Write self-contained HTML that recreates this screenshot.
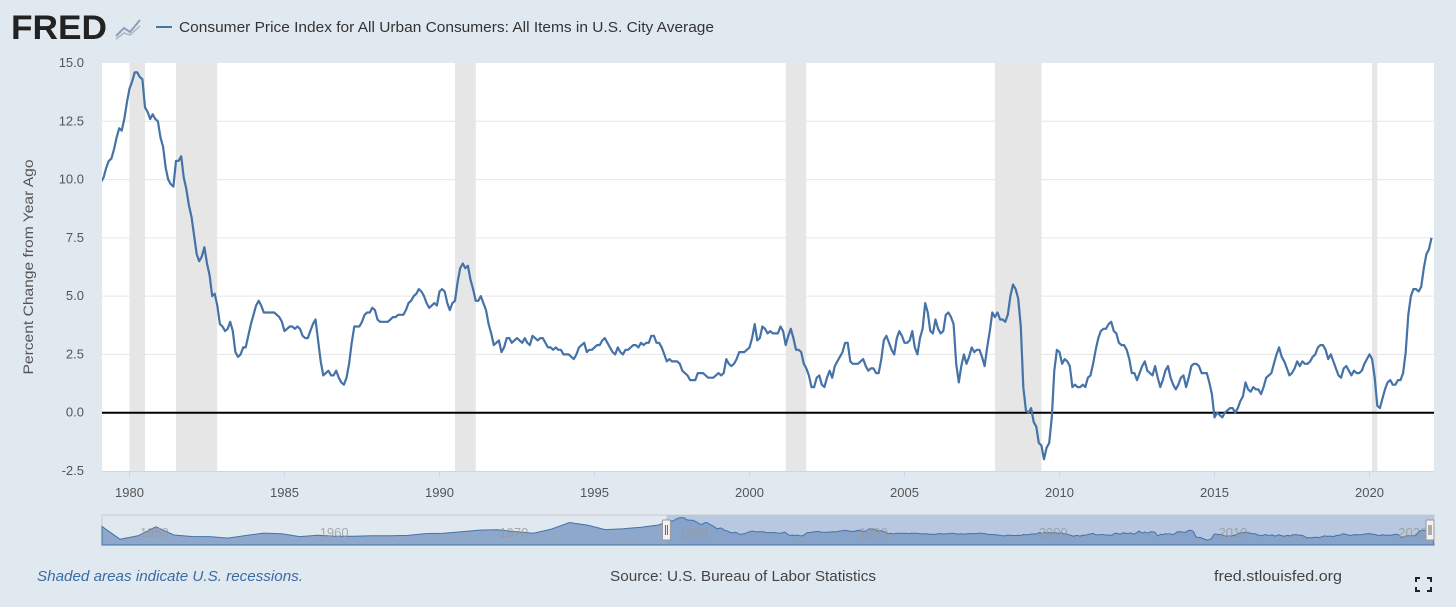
<!DOCTYPE html>
<html><head><meta charset="utf-8"><style>
body{margin:0;background:#e1e9f0;font-family:"Liberation Sans",sans-serif;}
#wrap{position:relative;width:1456px;height:607px;overflow:hidden;background:#e1e9f0;}
</style></head><body>
<div id="wrap">
<svg id="svg" width="1456" height="607" xmlns="http://www.w3.org/2000/svg">
  <defs><clipPath id="clip"><rect x="102" y="55" width="1332" height="420"/></clipPath></defs>
  <g>
    <text x="11" y="39" font-size="34" font-weight="bold" fill="#222" textLength="96" lengthAdjust="spacingAndGlyphs" font-family="Liberation Sans, sans-serif">FRED</text>
    <polyline points="116,36 124,28 130,32 140,20" fill="none" stroke="#8aa0b8" stroke-width="2"/>
    <polyline points="116,39 124,33 130,35 140,26" fill="none" stroke="#aab7c6" stroke-width="1.5"/>
  </g>
  <line x1="156" y1="27" x2="172" y2="27" stroke="#4572a7" stroke-width="2"/>
  <text x="179" y="32" font-size="15" fill="#333" textLength="535" lengthAdjust="spacingAndGlyphs">Consumer Price Index for All Urban Consumers: All Items in U.S. City Average</text>
  <rect x="102" y="63" width="1332" height="408" fill="#fff"/>
  <g id="rec"></g><g id="grid"></g><g id="yt"></g><g id="xt"></g>
  <path id="line" clip-path="url(#clip)" fill="none" stroke="#4572a7" stroke-width="2.2" stroke-linejoin="round"/>
  <text transform="translate(33,267) rotate(-90)" text-anchor="middle" font-size="14" textLength="215" lengthAdjust="spacingAndGlyphs" fill="#555">Percent Change from Year Ago</text>
  <g id="nav"></g>
  <text x="37" y="581" font-size="15" font-style="italic" fill="#3b6ba5" textLength="266" lengthAdjust="spacingAndGlyphs">Shaded areas indicate U.S. recessions.</text>
  <text x="743" y="581" text-anchor="middle" font-size="15" fill="#444" textLength="266" lengthAdjust="spacingAndGlyphs">Source: U.S. Bureau of Labor Statistics</text>
  <text x="1278" y="581" text-anchor="middle" font-size="15" fill="#444" textLength="128" lengthAdjust="spacingAndGlyphs">fred.stlouisfed.org</text>
  <g stroke="#222" stroke-width="2" fill="none">
    <polyline points="1416,582 1416,578 1420,578"/><polyline points="1427,578 1431,578 1431,582"/>
    <polyline points="1416,587 1416,591 1420,591"/><polyline points="1427,591 1431,591 1431,587"/>
  </g>
</svg>
</div>
<script>
const startYear = 1979;
const cpiYoY = [
9.3,9.9,10.1,10.5,10.8,10.9,11.3,11.8,12.2,12.1,12.6,13.3,
13.9,14.2,14.6,14.6,14.4,14.3,13.1,12.9,12.6,12.8,12.6,12.5,
11.8,11.4,10.5,10.0,9.8,9.7,10.8,10.8,11.0,10.1,9.6,8.9,
8.4,7.6,6.8,6.5,6.7,7.1,6.4,5.9,5.0,5.1,4.6,3.8,
3.7,3.5,3.6,3.9,3.5,2.6,2.4,2.5,2.8,2.8,3.3,3.8,
4.2,4.6,4.8,4.6,4.3,4.3,4.3,4.3,4.3,4.2,4.1,3.9,
3.5,3.6,3.7,3.7,3.6,3.7,3.6,3.3,3.2,3.2,3.5,3.8,
4.0,3.1,2.2,1.6,1.7,1.8,1.6,1.6,1.8,1.5,1.3,1.2,
1.5,2.1,3.0,3.7,3.7,3.7,3.9,4.2,4.3,4.3,4.5,4.4,
4.0,3.9,3.9,3.9,3.9,4.0,4.1,4.1,4.2,4.2,4.2,4.4,
4.7,4.8,5.0,5.1,5.3,5.2,5.0,4.7,4.5,4.6,4.7,4.6,
5.2,5.3,5.2,4.7,4.4,4.7,4.8,5.6,6.2,6.4,6.2,6.3,
5.7,5.3,4.8,4.8,5.0,4.7,4.4,3.8,3.4,2.9,3.0,3.1,
2.6,2.8,3.2,3.2,3.0,3.1,3.2,3.1,3.0,3.2,3.0,2.9,
3.3,3.2,3.1,3.2,3.2,3.0,2.8,2.8,2.7,2.8,2.7,2.7,
2.5,2.5,2.5,2.4,2.3,2.5,2.8,2.9,3.0,2.6,2.7,2.7,
2.8,2.9,2.9,3.1,3.2,3.0,2.8,2.6,2.5,2.8,2.6,2.5,
2.7,2.7,2.8,2.9,2.9,2.8,3.0,2.9,3.0,3.0,3.3,3.3,
3.0,3.0,2.8,2.5,2.2,2.3,2.2,2.2,2.2,2.1,1.8,1.7,
1.6,1.4,1.4,1.4,1.7,1.7,1.7,1.6,1.5,1.5,1.5,1.6,
1.7,1.6,1.7,2.3,2.1,2.0,2.1,2.3,2.6,2.6,2.6,2.7,
2.8,3.2,3.8,3.1,3.2,3.7,3.6,3.4,3.5,3.4,3.4,3.4,
3.7,3.5,2.9,3.3,3.6,3.2,2.7,2.7,2.6,2.1,1.9,1.6,
1.1,1.1,1.5,1.6,1.2,1.1,1.5,1.8,1.5,2.0,2.2,2.4,
2.6,3.0,3.0,2.2,2.1,2.1,2.1,2.2,2.3,2.0,1.8,1.9,
1.9,1.7,1.7,2.3,3.1,3.3,3.0,2.7,2.5,3.2,3.5,3.3,
3.0,3.0,3.1,3.5,2.8,2.5,3.2,3.6,4.7,4.3,3.5,3.4,
4.0,3.6,3.4,3.5,4.2,4.3,4.1,3.8,2.1,1.3,2.0,2.5,
2.1,2.4,2.8,2.6,2.7,2.7,2.4,2.0,2.8,3.5,4.3,4.1,
4.3,4.0,4.0,3.9,4.2,5.0,5.5,5.3,4.9,3.7,1.1,0.1,
0.0,0.2,-0.4,-0.6,-1.3,-1.4,-2.0,-1.5,-1.3,-0.2,1.8,2.7,
2.6,2.1,2.3,2.2,2.0,1.1,1.2,1.1,1.1,1.2,1.1,1.5,
1.6,2.1,2.7,3.2,3.5,3.6,3.6,3.8,3.9,3.5,3.4,3.0,
2.9,2.9,2.7,2.3,1.7,1.7,1.4,1.7,2.0,2.2,1.8,1.7,
1.6,2.0,1.5,1.1,1.4,1.8,2.0,1.5,1.2,1.0,1.2,1.5,
1.6,1.1,1.5,2.0,2.1,2.1,2.0,1.7,1.7,1.7,1.3,0.8,
-0.2,0.0,-0.1,-0.2,0.0,0.1,0.2,0.2,0.0,0.2,0.5,0.7,
1.3,1.0,0.9,1.1,1.0,1.0,0.8,1.1,1.5,1.6,1.7,2.1,
2.5,2.8,2.4,2.2,1.9,1.6,1.7,1.9,2.2,2.0,2.2,2.1,
2.1,2.2,2.4,2.5,2.8,2.9,2.9,2.7,2.3,2.5,2.2,1.9,
1.6,1.5,1.9,2.0,1.8,1.6,1.8,1.7,1.7,1.8,2.1,2.3,
2.5,2.3,1.5,0.3,0.2,0.6,1.0,1.3,1.4,1.2,1.2,1.4,
1.4,1.7,2.6,4.2,5.0,5.3,5.3,5.2,5.4,6.2,6.8,7.0,
7.5];
const yTicks = [-2.5,0,2.5,5,7.5,10,12.5,15];
const xTickYears = [1980,1985,1990,1995,2000,2005,2010,2015,2020];
const recStart = [1980.0,1981.5,1990.5,2001.17,2007.92,2020.08];
const recEnd = [1980.5,1982.83,1991.17,2001.83,2009.42,2020.25];
const navYears = [1948,1949,1950,1951,1952,1953,1954,1955,1956,1957,1958,1959,1960,1961,1962,1963,1964,1965,1966,1967,1968,1969,1970,1971,1972,1973,1974,1975,1976,1977,1978];
const navVals = [8.1,-1.2,1.3,7.9,1.9,0.8,0.7,-0.4,1.5,3.3,2.8,0.7,1.7,1.0,1.0,1.3,1.3,1.6,2.9,3.1,4.2,5.5,5.7,4.4,3.2,6.2,11.0,9.1,5.8,6.5,7.6];

const NS="http://www.w3.org/2000/svg";
const X0=102,X1=1434,Y0=63,Y1=471;
const xMin=1979.113, xMax=2022.08;
const x=t=>X0+(t-xMin)/(xMax-xMin)*(X1-X0);
const y=v=>Y1-(v+2.5)/17.5*(Y1-Y0);
function mk(tag,attrs,parent){const e=document.createElementNS(NS,tag);for(const k in attrs)e.setAttribute(k,attrs[k]);document.getElementById(parent).appendChild(e);return e;}
recStart.forEach((s,i)=>{const r=mk('rect',{x:x(s),y:Y0,width:x(recEnd[i])-x(s),height:Y1-Y0,fill:'#e6e6e6'},'rec');

});
yTicks.forEach(v=>{
 if(v!==0&&v!==-2.5&&v!==15){const l=mk('line',{x1:X0,x2:X1,y1:y(v),y2:y(v),stroke:'#e6e6e6','stroke-width':1},'grid');
 
 }
 const t=mk('text',{x:84,y:y(v)+4,'text-anchor':'end','font-size':13,fill:'#555'},'yt');
 
 
 t.textContent=v.toFixed(1);
});
const zl=mk('line',{x1:X0,x2:X1,y1:y(0),y2:y(0),stroke:'#000','stroke-width':2},'grid');


const ax=mk('line',{x1:X0,x2:X1,y1:Y1+0.5,y2:Y1+0.5,stroke:'#ccd6eb','stroke-width':1},'xt');


xTickYears.forEach(yr=>{
 const l=mk('line',{x1:x(yr),x2:x(yr),y1:Y1,y2:Y1+6,stroke:'#ccd6eb'},'xt');
 
 
 const t=mk('text',{x:x(yr),y:Y1+26,'text-anchor':'middle','font-size':13,fill:'#555'},'xt');
 
 
 t.textContent=yr;
});
let d='';cpiYoY.forEach((v,i)=>{const t=startYear+i/12;d+=(i?'L':'M')+x(t).toFixed(1)+','+y(v).toFixed(1);});
document.getElementById('line').setAttribute('d',d);

// navigator
const NX0=102,NX1=1434,NY0=515,NY1=545;
const nx=t=>NX0+(t-1948)/(2022.1-1948)*(NX1-NX0);
const ny=v=>NY1-4-(v+2.5)/19*(NY1-NY0-4);
mk('rect',{x:NX0,y:NY0,width:NX1-NX0,height:NY1-NY0,fill:'#e1e9f0',stroke:'#ccc'},'nav');
const sel=mk('rect',{x:nx(1979.4),y:NY0,width:NX1-nx(1979.4),height:NY1-NY0,fill:'#b8c8e0'},'nav');


let nd='M'+NX0+','+NY1;
navYears.forEach((yr,i)=>{nd+='L'+nx(yr).toFixed(1)+','+ny(navVals[i]).toFixed(1);});
cpiYoY.forEach((v,i)=>{nd+='L'+nx(startYear+i/12).toFixed(1)+','+ny(v).toFixed(1);});
nd+='L'+NX1+','+NY1+'Z';
const na=mk('path',{d:nd,fill:'#7e9cc4','fill-opacity':0.85,stroke:'#4572a7','stroke-width':1},'nav');


[1950,1960,1970,1980,1990,2000,2010,2020].forEach(yr=>{
 const t=mk('text',{x:nx(yr)+2,y:537,'font-size':13,fill:'#999','fill-opacity':0.8},'nav');
 
 
 t.textContent=yr;
});
[nx(1979.4),NX1-4].forEach(hx=>{
 const h=mk('rect',{x:hx-4,y:520,width:8,height:20,fill:'#f2f2f2',stroke:'#999',rx:1},'nav');
 
 
 mk('line',{x1:hx-1,x2:hx-1,y1:525,y2:535,stroke:'#666'},'nav');
 mk('line',{x1:hx+1,x2:hx+1,y1:525,y2:535,stroke:'#666'},'nav');
});
</script>
</body></html>
